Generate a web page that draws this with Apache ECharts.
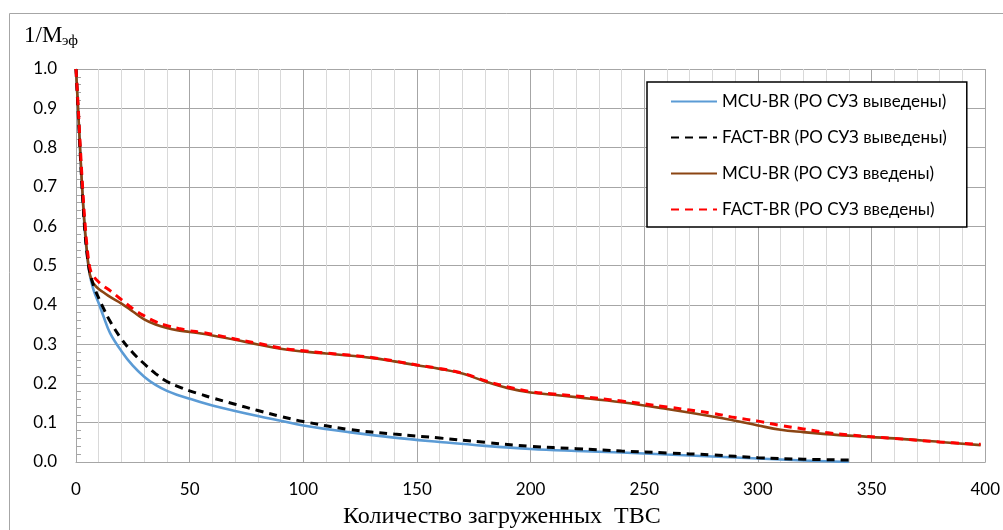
<!DOCTYPE html>
<html>
<head>
<meta charset="utf-8">
<script src="https://cdn.jsdelivr.net/npm/echarts@6/dist/echarts.min.js"></script>
<style>
    html, body { margin: 0; padding: 0; background: #fff; }
    #chart { width: 1003px; height: 530px; }
</style>
</head>
<body>
<div id="chart"></div>
<script>
// количество ТВС (ось X) и 1/Mэф для четырёх расчётов
const tvsOut = [0, 1, 2, 3, 4, 5, 6, 7, 8, 10, 12, 15, 20, 25, 30, 35, 40, 45, 50, 55, 60, 70, 80, 90, 100,
    120, 140, 160, 180, 200, 220, 240, 260, 280, 300, 320, 340];
const mcuOut = [1.0, 0.885, 0.77, 0.665, 0.58, 0.52, 0.478, 0.453, 0.433, 0.404, 0.372, 0.328, 0.282, 0.245, 0.217, 0.196, 0.181,
    0.17, 0.161, 0.152, 0.144, 0.13, 0.117, 0.105, 0.093, 0.076, 0.062, 0.051, 0.041, 0.033, 0.028, 0.024, 0.019, 0.014,
    0.009, 0.004, 0.0];
const factOut = [1.0, 0.885, 0.77, 0.665, 0.58, 0.523, 0.485, 0.462, 0.444, 0.417, 0.392, 0.358, 0.313, 0.278, 0.25, 0.225, 0.205,
    0.192, 0.181, 0.172, 0.163, 0.147, 0.131, 0.116, 0.103, 0.083, 0.071, 0.061, 0.05, 0.04, 0.034, 0.028, 0.023, 0.018,
    0.011, 0.007, 0.005];

const tvsIn = [0, 1, 2, 3, 4, 5, 6, 7, 8, 10, 12, 15, 20, 25, 30, 35, 40, 45, 50, 55, 60, 70, 80, 90, 100,
    110, 120, 130, 140, 150, 160, 170, 180, 190, 200, 210, 220, 240, 260, 280, 290, 300, 310, 320, 330, 340, 360, 380, 398];
const mcuIn = [1.0, 0.89, 0.775, 0.67, 0.588, 0.525, 0.48, 0.462, 0.452, 0.44, 0.432, 0.42, 0.403, 0.383, 0.363, 0.35, 0.341,
    0.335, 0.331, 0.327, 0.322, 0.311, 0.299, 0.288, 0.281, 0.276, 0.271, 0.265, 0.256, 0.246, 0.237, 0.225, 0.205, 0.188,
    0.177, 0.171, 0.165, 0.152, 0.135, 0.116, 0.105, 0.093, 0.082, 0.076, 0.071, 0.067, 0.06, 0.051, 0.043];
const factIn = [1.0, 0.9, 0.79, 0.69, 0.605, 0.54, 0.497, 0.478, 0.47, 0.458, 0.448, 0.436, 0.413, 0.39, 0.372, 0.357, 0.347,
    0.34, 0.334, 0.33, 0.325, 0.313, 0.302, 0.29, 0.283, 0.277, 0.272, 0.266, 0.257, 0.247, 0.238, 0.226, 0.207, 0.191,
    0.179, 0.173, 0.168, 0.155, 0.14, 0.124, 0.113, 0.104, 0.093, 0.084, 0.075, 0.069, 0.06, 0.051, 0.045];

const seriesNames = [
    'MCU-BR (РО СУЗ выведены)',
    'FACT-BR (РО СУЗ выведены)',
    'MCU-BR (РО СУЗ введены)',
    'FACT-BR (РО СУЗ введены)'
];

function pairs(xs, ys) {
    return xs.map(function (x, i) { return [x, ys[i]]; });
}

function line(name, xs, ys, color, width, dashed) {
    return {
        name: name,
        type: 'line',
        data: pairs(xs, ys),
        symbol: 'none',
        smooth: 0.4,
        lineStyle: { color: color, width: width, type: dashed ? [8, 6] : 'solid' },
        itemStyle: { color: color },
        z: dashed ? 3 : 2
    };
}

const chart = echarts.init(document.getElementById('chart'));

const options = {
    animation: false,
    backgroundColor: '#fff',
    grid: { left: 76, right: 17, top: 69, bottom: 68 },
    legend: {
        orient: 'vertical',
        left: 647,
        top: 82,
        padding: [11, 20, 9, 23],
        itemWidth: 46,
        itemHeight: 14,
        itemGap: 19,
        backgroundColor: '#fff',
        borderColor: '#000',
        borderWidth: 1.5,
        itemStyle: { opacity: 0 },
        textStyle: { fontFamily: 'Lato', fontSize: 17, color: '#000' },
        data: seriesNames
    },
    xAxis: {
        type: 'value',
        min: 0,
        max: 400,
        interval: 50,
        axisLine: { show: true, lineStyle: { color: '#a6a6a6', width: 1 } },
        axisTick: { show: false },
        axisLabel: { margin: 19, fontFamily: 'Lato', fontSize: 17, color: '#000' },
        splitLine: { show: true, lineStyle: { color: '#a6a6a6', width: 1 } },
        minorTick: { show: false, splitNumber: 5 },
        minorSplitLine: { show: true, lineStyle: { color: '#d9d9d9', width: 1 } }
    },
    yAxis: {
        type: 'value',
        min: 0,
        max: 1,
        interval: 0.1,
        axisLine: { show: true, lineStyle: { color: '#a6a6a6', width: 1 } },
        axisTick: { show: true, inside: true, length: 5, lineStyle: { color: '#a6a6a6' } },
        minorTick: { show: true, splitNumber: 5, length: 5, lineStyle: { color: '#a6a6a6' } },
        axisLabel: {
            margin: 19,
            fontFamily: 'Lato',
            fontSize: 17,
            color: '#000',
            formatter: function (v) { return v.toFixed(1); }
        },
        splitLine: { show: true, lineStyle: { color: '#a6a6a6', width: 1 } }
    },
    graphic: [
        {
            type: 'rect',
            silent: true,
            shape: { x: 9.5, y: 13.5, width: 1010, height: 530 },
            style: { fill: 'none', stroke: '#a6a6a6', lineWidth: 1 },
            z: -10
        },
        {
            type: 'text',
            left: 24,
            top: 24,
            style: { text: '1/M', font: '23px "Liberation Serif"', fill: '#000' }
        },
        {
            type: 'text',
            left: 62,
            top: 34,
            style: { text: 'эф', font: '15px "Liberation Serif"', fill: '#000' }
        },
        {
            type: 'text',
            left: 343,
            top: 505,
            style: { text: 'Количество загруженных  ТВС', font: '24px "Liberation Serif"', fill: '#000' }
        }
    ],
    series: [
        line(seriesNames[0], tvsOut, mcuOut, '#5b9bd5', 2.6, false),
        line(seriesNames[1], tvsOut, factOut, '#000000', 3, true),
        line(seriesNames[2], tvsIn, mcuIn, '#8b4513', 2.6, false),
        line(seriesNames[3], tvsIn, factIn, '#ff0000', 3, true)
    ]
};

chart.setOption(options);
</script>
</body>
</html>
